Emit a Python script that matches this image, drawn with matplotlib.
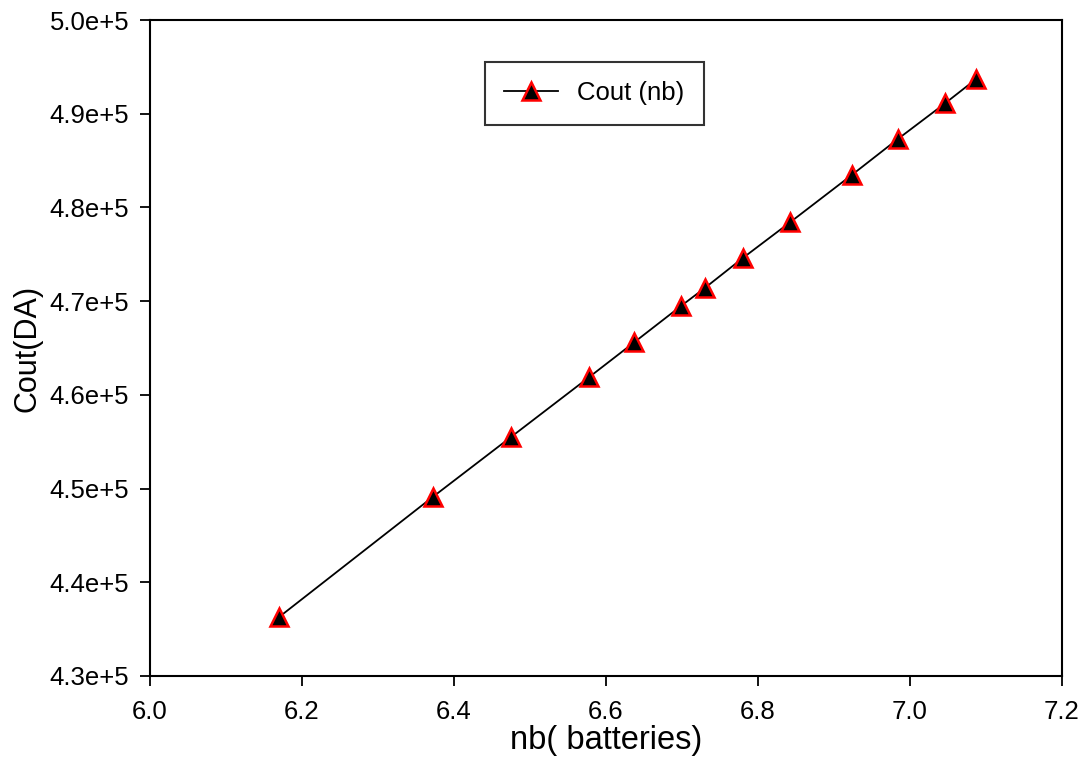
import matplotlib
matplotlib.use("Agg")
import matplotlib.pyplot as plt
from matplotlib.ticker import FuncFormatter

plt.rcParams['font.family'] = ['Liberation Sans', 'DejaVu Sans']

# nb (batteries) vs cost (DA)
nb = [6.170, 6.372, 6.475, 6.578, 6.637, 6.699, 6.730, 6.780, 6.842, 6.924, 6.984, 7.046, 7.087]
cout = [4.363e5, 4.491e5, 4.555e5, 4.619e5, 4.656e5, 4.695e5, 4.714e5, 4.746e5,
        4.784e5, 4.835e5, 4.873e5, 4.911e5, 4.937e5]

x_ticks = [6.0, 6.2, 6.4, 6.6, 6.8, 7.0, 7.2]
y_ticks = [4.3e5, 4.4e5, 4.5e5, 4.6e5, 4.7e5, 4.8e5, 4.9e5, 5.0e5]


def sci_fmt(v, pos):
    return "%.1fe+5" % (v / 1e5)


fig = plt.figure(figsize=(10.9, 7.64), dpi=100)
ax = fig.add_axes([0.1376, 0.1152, 0.8367, 0.8586])

ax.plot(nb, cout, color='black', linewidth=1.3, marker='^', markersize=12.5,
        markerfacecolor='black', markeredgecolor='red', markeredgewidth=1.8,
        label='Cout (nb)')

ax.set_xlim(6.0, 7.2)
ax.set_ylim(4.3e5, 5.0e5)
ax.set_xticks(x_ticks)
ax.set_yticks(y_ticks)
ax.xaxis.set_major_formatter(FuncFormatter(lambda v, p: "%.1f" % v))
ax.yaxis.set_major_formatter(FuncFormatter(sci_fmt))
ax.tick_params(direction='out', length=7, width=1.3, labelsize=18.5)
ax.tick_params(axis='x', pad=10)
ax.tick_params(axis='y', pad=8)
for s in ax.spines.values():
    s.set_linewidth(1.5)

ax.set_xlabel('nb( batteries)', fontsize=23.5, labelpad=1)
ax.set_ylabel('Cout(DA)', fontsize=22, labelpad=5)

leg = ax.legend(loc='upper left', bbox_to_anchor=(0.367, 0.936), fontsize=18.5,
                frameon=True, fancybox=False, edgecolor='black',
                borderpad=0.75, handlelength=2.1, handletextpad=0.75,
                borderaxespad=0)
leg.get_frame().set_linewidth(1.5)

fig.savefig('out.png', dpi=100)
